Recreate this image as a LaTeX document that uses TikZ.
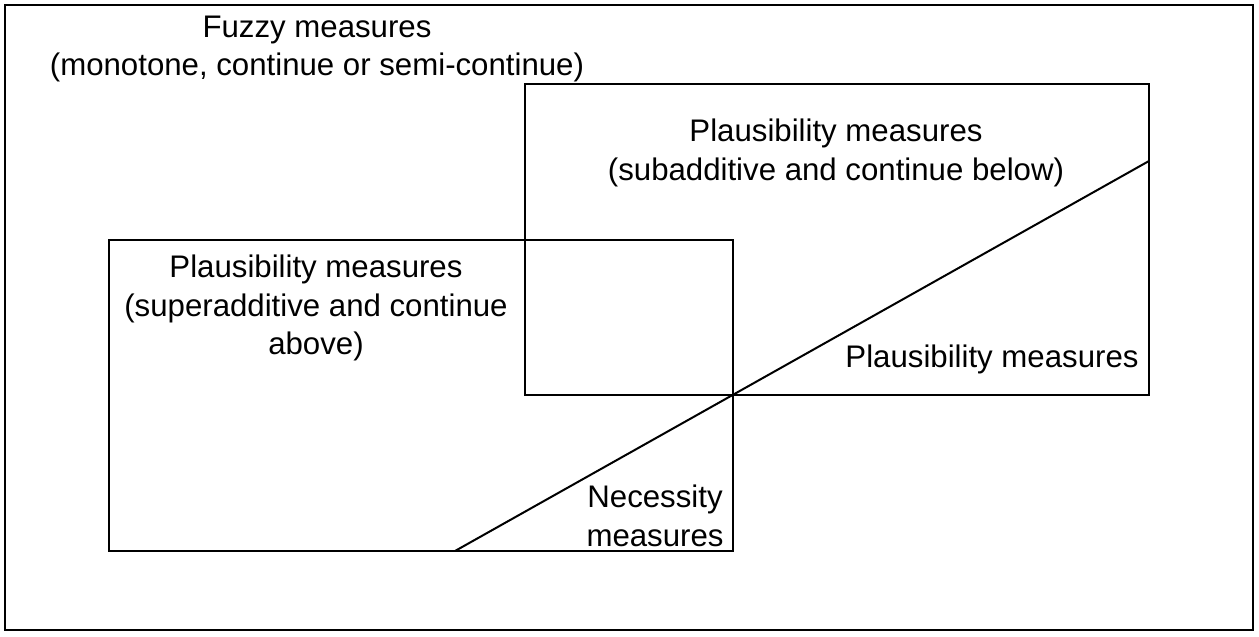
\documentclass[tikz,border=0pt]{standalone}
\usepackage{fontspec}
\setmainfont{Liberation Sans}
\begin{document}
\begin{tikzpicture}[x=1pt,y=-1pt,
  box/.style={draw,line width=2pt},
  lbl/.style={align=center,inner sep=0pt,font=\fontsize{31.2}{38.5}\selectfont}]
\useasboundingbox (0,0) rectangle (1259,637);
\draw[box] (5,5) rectangle (1253,630);
\draw[box] (525,84) rectangle (1149,395);
\draw[box] (109,240) rectangle (733,551);
\coordinate (ls) at (455,551);
\coordinate (le) at (1149,161);
\draw[line width=2pt] (ls) -- (le);
\node[lbl] (fz) at (317,49) {Fuzzy measures\\(monotone, continue or semi-continue)};
\node[lbl] (pu) at (836,153) {Plausibility measures\\(subadditive and continue below)};
\node[lbl] (pl) at (316,308) {Plausibility measures\\(superadditive and continue\\above)};
\node[lbl] (pr) at (992,359) {Plausibility measures};
\node[lbl] (ne) at (655,516) {Necessity\\measures};
\end{tikzpicture}
\end{document}
